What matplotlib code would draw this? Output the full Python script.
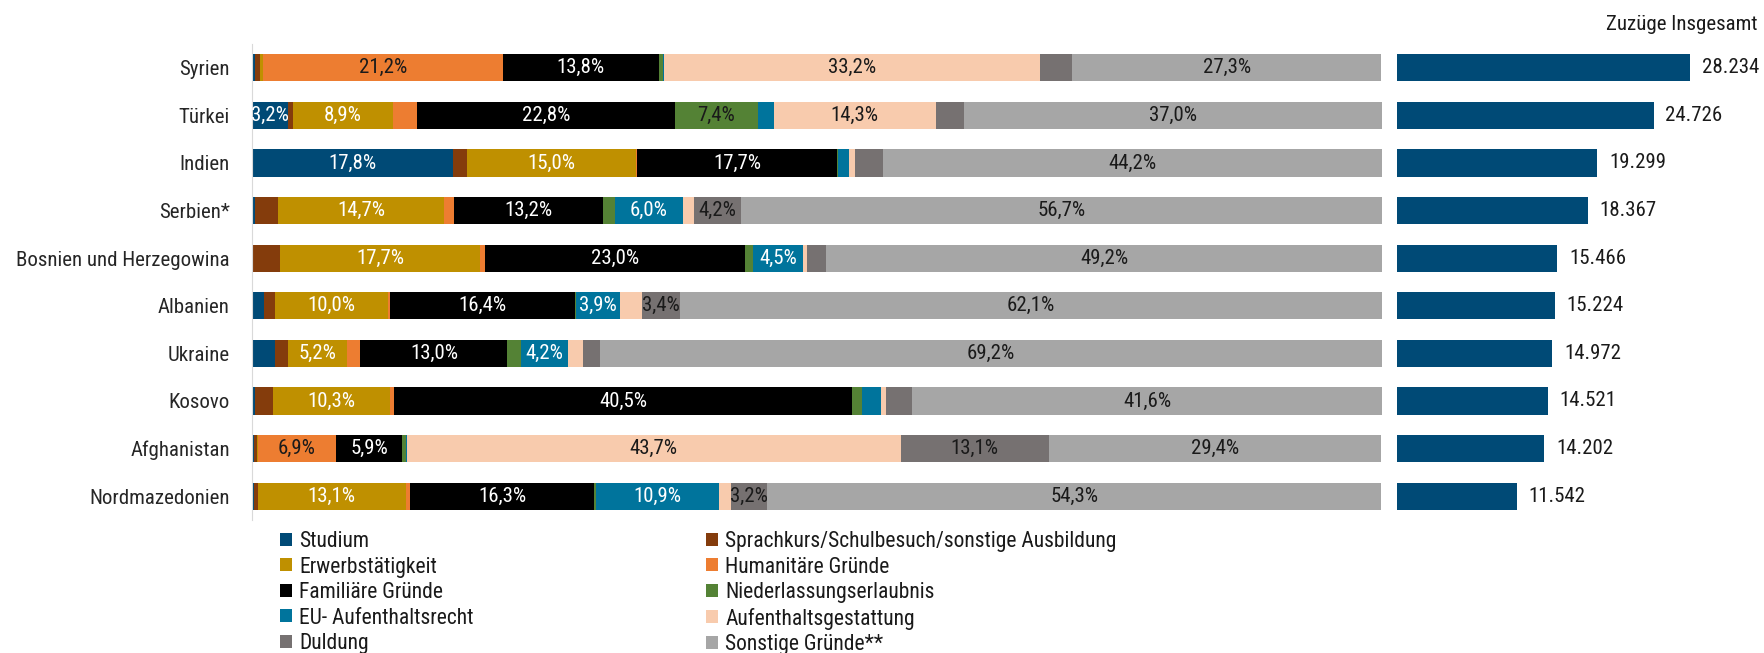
import matplotlib
matplotlib.use("Agg")
import matplotlib.pyplot as plt
from matplotlib import font_manager
from matplotlib.patches import Patch

# pick a narrow font if one is installed, otherwise DejaVu Sans
installed = {f.name for f in font_manager.fontManager.ttflist}
font = "DejaVu Sans"
for cand in ["Roboto Condensed", "Open Sans Condensed", "Liberation Sans Narrow"]:
    if cand in installed:
        font = cand
        break
plt.rcParams["font.family"] = [font, "DejaVu Sans"]

countries = ["Syrien", "Türkei", "Indien", "Serbien*", "Bosnien und Herzegowina",
             "Albanien", "Ukraine", "Kosovo", "Afghanistan", "Nordmazedonien"]
totals = [28234, 24726, 19299, 18367, 15466, 15224, 14972, 14521, 14202, 11542]

reasons = ["Studium", "Sprachkurs/Schulbesuch/sonstige Ausbildung", "Erwerbstätigkeit",
           "Humanitäre Gründe", "Familiäre Gründe", "Niederlassungserlaubnis",
           "EU- Aufenthaltsrecht", "Aufenthaltsgestattung", "Duldung", "Sonstige Gründe**"]

# shares in percent, one list per reason (same order as countries)
studium = [0.3, 3.2, 17.8, 0.3, 0.1, 1.1, 2.0, 0.3, 0.2, 0.2]
sprachkurs = [0.4, 0.4, 1.2, 2.0, 2.4, 0.9, 1.2, 1.6, 0.2, 0.3]
erwerb = [0.3, 8.9, 15.0, 14.7, 17.7, 10.0, 5.2, 10.3, 0.1, 13.1]
humanitaer = [21.2, 2.1, 0.1, 0.9, 0.4, 0.2, 1.2, 0.4, 6.9, 0.4]
familie = [13.8, 22.8, 17.7, 13.2, 23.0, 16.4, 13.0, 40.5, 5.9, 16.3]
niederlassung = [0.4, 7.4, 0.1, 1.0, 0.7, 0.1, 1.2, 0.9, 0.3, 0.1]
eu = [0.1, 1.4, 0.9, 6.0, 4.5, 3.9, 4.2, 1.7, 0.1, 10.9]
gestattung = [33.2, 14.3, 0.6, 1.0, 0.3, 1.9, 1.3, 0.4, 43.7, 1.1]
duldung = [2.9, 2.5, 2.4, 4.2, 1.7, 3.4, 1.5, 2.3, 13.1, 3.2]
sonstige = [27.3, 37.0, 44.2, 56.7, 49.2, 62.1, 69.2, 41.6, 29.4, 54.3]

series = [studium, sprachkurs, erwerb, humanitaer, familie,
          niederlassung, eu, gestattung, duldung, sonstige]
colors = ["#004a76", "#843c0c", "#bf9000", "#ed7d31", "#000000",
          "#548235", "#00749c", "#f8cbad", "#767171", "#a6a6a6"]
text_colors = ["white", "white", "white", "#1a1a1a", "white",
               "#1a1a1a", "white", "#1a1a1a", "#1a1a1a", "#1a1a1a"]

W, H = 1764, 653
fig = plt.figure(figsize=(W / 100, H / 100), dpi=100)

# main stacked chart
ax = fig.add_axes([252 / W, 1 - 520 / H, 1130 / W, 476 / H])
y = list(range(len(countries)))
left = [0.0] * len(countries)
for vals, col, tcol in zip(series, colors, text_colors):
    ax.barh(y, vals, left=left, height=0.57, color=col, linewidth=0)
    for i, v in enumerate(vals):
        if v >= 3.0:
            ax.text(left[i] + v / 2, i, f"{v:.1f}".replace(".", ",") + "%",
                    ha="center", va="center", color=tcol, fontsize=15)
    left = [l + v for l, v in zip(left, vals)]

ax.set_xlim(0, 100)
ax.set_ylim(len(countries) - 0.5, -0.5)
ax.set_yticks(y)
ax.set_yticklabels(countries, fontsize=15, color="#262626")
ax.tick_params(axis="y", length=0, pad=16)
ax.set_xticks([])
for side in ["top", "right", "bottom"]:
    ax.spines[side].set_visible(False)
ax.spines["left"].set_color("#d9d9d9")

# totals panel
ax2 = fig.add_axes([1397 / W, 1 - 520 / H, 293 / W, 476 / H])
ax2.barh(y, totals, height=0.57, color="#004a76", linewidth=0)
for i, t in enumerate(totals):
    ax2.text(t + max(totals) * 0.04, i, f"{t:,}".replace(",", "."),
             ha="left", va="center", fontsize=15, color="#1a1a1a", clip_on=False)
ax2.set_xlim(0, max(totals))
ax2.set_ylim(len(countries) - 0.5, -0.5)
ax2.axis("off")
fig.text(1758 / W, 1 - 24 / H, "Zuzüge Insgesamt", ha="right", va="center",
         fontsize=15, color="#1a1a1a")

# legend, two columns filled row by row
handles = [Patch(facecolor=c, edgecolor="none", label=r) for c, r in zip(colors, reasons)]
leg_kw = dict(frameon=False, fontsize=15.5, handlelength=0.55, handleheight=0.55,
              handletextpad=0.35, labelspacing=0.21, borderaxespad=0, borderpad=0)
leg1 = fig.legend(handles=handles[0::2], loc="upper left",
                  bbox_to_anchor=(280 / W, 1 - 531 / H), **leg_kw)
leg2 = fig.legend(handles=handles[1::2], loc="upper left",
                  bbox_to_anchor=(706 / W, 1 - 531 / H), **leg_kw)
for leg in (leg1, leg2):
    for txt in leg.get_texts():
        txt.set_color("#1a1a1a")

fig.savefig("out.png", dpi=100)
